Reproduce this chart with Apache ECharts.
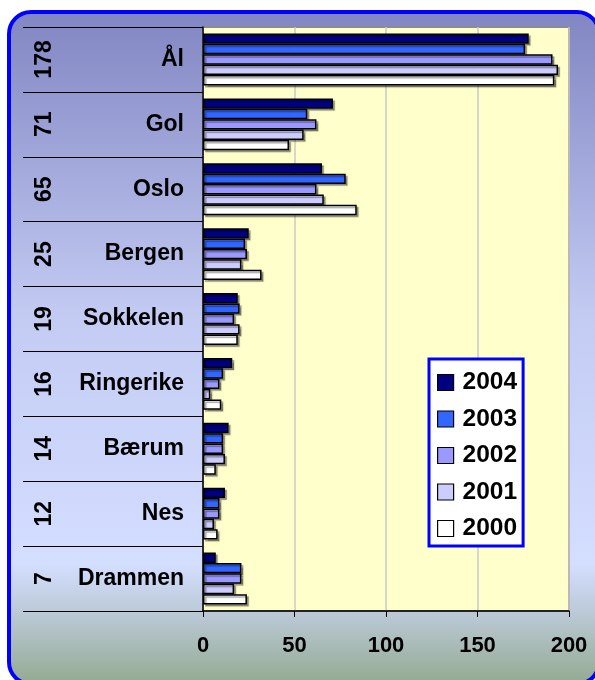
<!DOCTYPE html>
<html>
<head>
<meta charset="utf-8">
<script src="https://cdn.jsdelivr.net/npm/echarts@6/dist/echarts.min.js"></script>
<style>
    html, body { margin: 0; padding: 0; background: #ffffff; }
    #chart-1 { width: 595px; height: 680px; }
</style>
</head>
<body>
<div id="chart-1"></div>
<script>
"use strict";

// categories, top to bottom
var cities = ["Ål", "Gol", "Oslo", "Bergen", "Sokkelen", "Ringerike", "Bærum", "Nes", "Drammen"];

// values per year
var years = ["2004", "2003", "2002", "2001", "2000"];
var v2004 = [178, 71, 65, 25, 19, 16, 14, 12, 7];
var v2003 = [176, 57, 78, 23, 20, 11, 11, 9, 21];
var v2002 = [191, 62, 62, 24, 17, 9, 11, 9, 21];
var v2001 = [194, 55, 66, 21, 20, 4, 12, 6, 17];
var v2000 = [192, 47, 84, 32, 19, 10, 7, 8, 24];

// x axis
var xMin = 0;
var xMax = 200;
var xStep = 50;

(function (window, echarts) {
    var chart_1 = echarts.init(document.querySelector("#chart-1"));

    var font = "'Liberation Sans', Arial, sans-serif";
    var colors = ["#000080", "#3366FF", "#9999FF", "#CCCCFF", "#FFFFFF"];
    var values = [v2004, v2003, v2002, v2001, v2000];

    // the rotated numbers on the left are the 2004 values
    var numLabels = v2004.map(_ => String(_));

    var series = years.map((y, i) => ({
        name: y,
        type: "bar",
        barGap: "0%",
        barCategoryGap: "20%",
        itemStyle: {
            color: colors[i],
            borderColor: "#000000",
            borderWidth: 1.5,
            shadowColor: "rgba(0,0,0,0.35)",
            shadowOffsetX: 2,
            shadowOffsetY: 2,
            shadowBlur: 1
        },
        emphasis: { disabled: true },
        data: values[i]
    }));

    var option = {
        animation: false,
        graphic: [
            {
                type: "rect",
                z: -10,
                silent: true,
                shape: { x: 9, y: 12, width: 590, height: 672, r: 22 },
                style: {
                    fill: new echarts.graphic.LinearGradient(0, 0, 0, 1, [
                        { offset: 0, color: "#8185C2" },
                        { offset: 0.45, color: "#C3CBF3" },
                        { offset: 0.82, color: "#D4DEFF" },
                        { offset: 0.9, color: "#B8C7D2" },
                        { offset: 1, color: "#92A98E" }
                    ]),
                    stroke: "#0000FF",
                    lineWidth: 4
                }
            }
        ],
        legend: {
            orient: "vertical",
            left: 429,
            top: 359,
            padding: [11, 6, 5, 8],
            itemGap: 11.5,
            itemWidth: 16,
            itemHeight: 16,
            icon: "rect",
            backgroundColor: "#FFFFFF",
            borderColor: "#0000FF",
            borderWidth: 3,
            itemStyle: { shadowBlur: 0, shadowOffsetX: 0, shadowOffsetY: 0, borderWidth: 1.2 },
            textStyle: {
                fontFamily: font,
                fontWeight: "bold",
                fontSize: 24.5,
                color: "#000000",
                padding: [0, 0, 0, 4]
            },
            data: years
        },
        grid: {
            left: 203,
            right: 26,
            top: 27,
            bottom: 69,
            show: true,
            backgroundColor: "#FFFFCC",
            borderColor: "#8C8C8C",
            borderWidth: 2
        },
        xAxis: {
            type: "value",
            min: xMin,
            max: xMax,
            interval: xStep,
            axisLine: { show: true, lineStyle: { color: "#000000", width: 1.5 } },
            axisTick: { show: true, length: 6, lineStyle: { color: "#000000" } },
            splitLine: { show: true, lineStyle: { color: "#C8C8C8", width: 1.5 } },
            axisLabel: {
                margin: 24,
                fontFamily: font,
                fontWeight: "bold",
                fontSize: 22,
                color: "#000000"
            }
        },
        yAxis: [
            {
                type: "category",
                inverse: true,
                data: cities,
                axisLine: { show: true, lineStyle: { color: "#000000", width: 1.5 } },
                axisTick: { show: true, length: 180, lineStyle: { color: "#000000", width: 1 } },
                axisLabel: {
                    margin: 19,
                    fontFamily: font,
                    fontWeight: "bold",
                    fontSize: 23,
                    color: "#000000"
                }
            },
            {
                type: "category",
                inverse: true,
                position: "left",
                data: numLabels,
                axisLine: { show: false },
                axisTick: { show: false },
                axisLabel: {
                    margin: 158,
                    rotate: 90,
                    align: "center",
                    verticalAlign: "middle",
                    fontFamily: font,
                    fontWeight: "bold",
                    fontSize: 23,
                    color: "#000000"
                }
            }
        ],
        series: series
    };

    chart_1.setOption(option);
}(window, echarts));
</script>
</body>
</html>
